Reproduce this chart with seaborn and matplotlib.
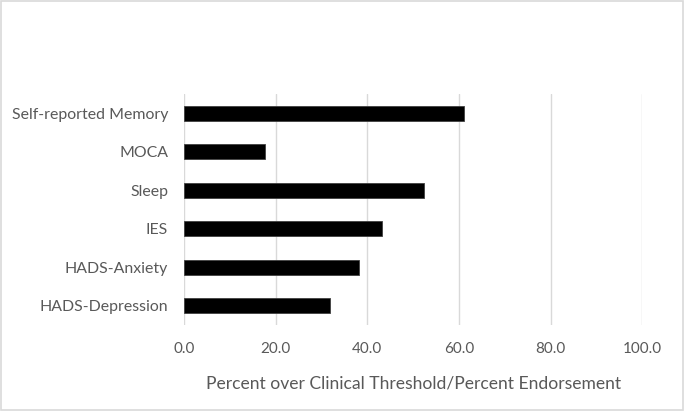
import pandas as pd
import matplotlib.pyplot as plt
import seaborn as sns
from matplotlib.patches import Rectangle

# values
measures = ['Self-reported Memory', 'MOCA', 'Sleep', 'IES', 'HADS-Anxiety', 'HADS-Depression']
percent = [61.2, 17.7, 52.4, 43.3, 38.2, 31.9]
x_ticks = [0, 20, 40, 60, 80, 100]

df = pd.DataFrame({'Measure': measures, 'Percent': percent})

sns.set_style('white')
plt.rcParams['font.family'] = ['Lato', 'DejaVu Sans']

fig = plt.figure(figsize=(6.84, 4.11), dpi=100)
ax = fig.add_axes([0.269, 0.209, 0.670, 0.562])

sns.barplot(data=df, x='Percent', y='Measure', color='black', width=0.39,
            edgecolor='#404040', linewidth=0.6, saturation=1, ax=ax)

ax.set_xlim(0, 100)
ax.set_ylim(5.5, -0.5)
ax.set_xticks(x_ticks)
ax.set_xticklabels([f'{t:.1f}' for t in x_ticks])
ax.xaxis.grid(True, color='#d9d9d9', linewidth=1)
ax.set_axisbelow(True)
for s in ax.spines.values():
    s.set_visible(False)
ax.tick_params(axis='x', length=0, labelsize=11, colors='#595959', pad=12)
ax.tick_params(axis='y', length=0, labelsize=11.4, colors='#595959', pad=11.5)

ax.set_ylabel('')
ax.set_xlabel('Percent over Clinical Threshold/Percent Endorsement',
              fontsize=12.6, color='#595959', labelpad=14)

# light chart-area border
fig.patches.append(Rectangle((0.002, 0.003), 0.996, 0.994, transform=fig.transFigure,
                             fill=False, edgecolor='#d9d9d9', linewidth=1.2))

fig.savefig('out.png', dpi=100)
